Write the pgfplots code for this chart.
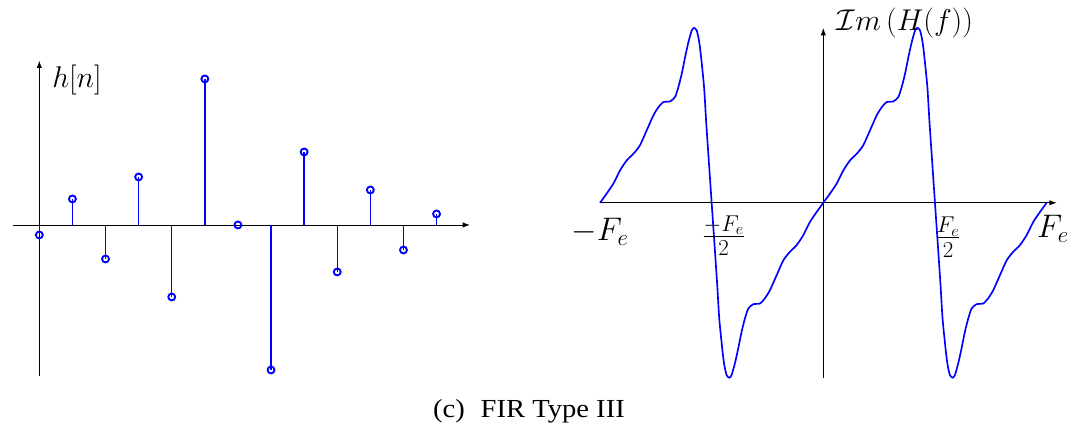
\RequirePackage{fix-cm}
\documentclass[border=0pt]{standalone}
\usepackage[no-math]{fontspec}
\usepackage{graphicx}
\usepackage{pgfplots}
\pgfplotsset{compat=1.18}
\usetikzlibrary{arrows.meta}
\newfontfamily\capfont{Liberation Serif}

\pgfplotsset{
  sigaxis/.style={
    axis lines=middle,
    scale only axis,
    anchor=south west,
    enlargelimits=false,
    xtick=\empty, ytick=\empty,
    clip=false,
    axis line style={black, line width=0.65pt, -{Latex[length=5.5pt,width=4pt]}},
  },
}
\tikzset{lbl/.style={inner sep=0pt, font=\fontsize{24.5}{29}\selectfont}}

\begin{document}
\begin{tikzpicture}
\useasboundingbox (0,0) rectangle (801pt,323.25pt);

% impulse response h[n], n = 0..12
\begin{axis}[sigaxis,
  width=342.75pt, height=236.25pt, at={(9.75pt,41.5pt)},
  xmin=-0.795, xmax=13.01, ymin=-15.07, ymax=16.43]
\addplot[ycomb, color=blue, line width=1.1pt, mark=o, mark size=2.6pt,
  mark options={line width=1.4pt}] coordinates {
  (0,-1.0) (1,2.6) (2,-3.4) (3,4.8) (4,-7.2) (5,14.6) (6,0.0)
  (7,-14.5) (8,7.3) (9,-4.7) (10,3.5) (11,-2.5) (12,1.1)
};
\node[lbl, anchor=west, font=\fontsize{22.5}{27}\selectfont] at (axis cs:0,16.43) [xshift=9.5pt, yshift=-14.5pt] {$h[n]$};
\end{axis}

% imaginary part of the frequency response over [-Fe, Fe]
\begin{axis}[sigaxis,
  width=342.5pt, height=262.3pt, at={(450pt,40pt)},
  xmin=-1.0, xmax=1.045, ymin=-1.0, ymax=1.0]
\addplot[color=blue, line width=1.25pt, smooth, tension=0.4] coordinates {
  (-1.000,0) (-0.970,0.053) (-0.940,0.110) (-0.910,0.186) (-0.880,0.243)
  (-0.850,0.281) (-0.821,0.329) (-0.791,0.414) (-0.761,0.500) (-0.738,0.547)
  (-0.716,0.576) (-0.686,0.580) (-0.664,0.605) (-0.649,0.662) (-0.634,0.738)
  (-0.619,0.833) (-0.604,0.919) (-0.589,0.986) (-0.579,1.000) (-0.567,0.986)
  (-0.557,0.930) (-0.549,0.853) (-0.534,0.662) (-0.525,0.471) (-0.515,0.281)
  (-0.507,0.131) (-0.500,0)
  (-0.493,-0.131) (-0.485,-0.281) (-0.475,-0.471) (-0.466,-0.662) (-0.451,-0.853)
  (-0.443,-0.930) (-0.433,-0.986) (-0.421,-1.000) (-0.411,-0.986) (-0.396,-0.919)
  (-0.381,-0.833) (-0.366,-0.738) (-0.351,-0.662) (-0.336,-0.605) (-0.314,-0.580)
  (-0.284,-0.576) (-0.262,-0.547) (-0.239,-0.500) (-0.209,-0.414) (-0.179,-0.329)
  (-0.150,-0.281) (-0.120,-0.243) (-0.090,-0.186) (-0.060,-0.110) (-0.030,-0.053)
  (0.000,0)
  (0.030,0.053) (0.060,0.110) (0.090,0.186) (0.120,0.243)
  (0.150,0.281) (0.179,0.329) (0.209,0.414) (0.239,0.500) (0.262,0.547)
  (0.284,0.576) (0.314,0.580) (0.336,0.605) (0.351,0.662) (0.366,0.738)
  (0.381,0.833) (0.396,0.919) (0.411,0.986) (0.421,1.000) (0.433,0.986)
  (0.443,0.930) (0.451,0.853) (0.466,0.662) (0.475,0.471) (0.485,0.281)
  (0.493,0.131) (0.500,0)
  (0.507,-0.131) (0.515,-0.281) (0.525,-0.471) (0.534,-0.662) (0.549,-0.853)
  (0.557,-0.930) (0.567,-0.986) (0.579,-1.000) (0.589,-0.986) (0.604,-0.919)
  (0.619,-0.833) (0.634,-0.738) (0.649,-0.662) (0.664,-0.605) (0.686,-0.580)
  (0.716,-0.576) (0.738,-0.547) (0.761,-0.500) (0.791,-0.414) (0.821,-0.329)
  (0.850,-0.281) (0.880,-0.243) (0.910,-0.186) (0.940,-0.110) (0.970,-0.053)
  (1.000,0)
};
\node[lbl, anchor=north] at (axis cs:-1,0) [yshift=-11.6pt] {$-F_e$};
\node[lbl, anchor=north west] at (axis cs:-0.5,0) [xshift=-7.5pt, yshift=-9.4pt] {$\frac{-F_e}{2}$};
\node[lbl, anchor=north west] at (axis cs:0.5,0) [xshift=0pt, yshift=-10.7pt] {$\frac{F_e}{2}$};
\node[lbl, anchor=north west] at (axis cs:1,0) [xshift=-7.3pt, yshift=-9.4pt] {$F_e$};
\node[lbl, anchor=west, font=\fontsize{22.5}{27}\selectfont] at (axis cs:0,1) [xshift=10pt, yshift=3.4pt] {$\mathcal{I}m\left(H(f)\right)$};
\end{axis}

\node[font=\capfont\fontsize{19.5}{23}\selectfont] at (396.75pt,14.5pt)
  {\scalebox{1.1}[1]{(c)\hspace{0.55em}FIR Type III}};
\end{tikzpicture}
\end{document}
